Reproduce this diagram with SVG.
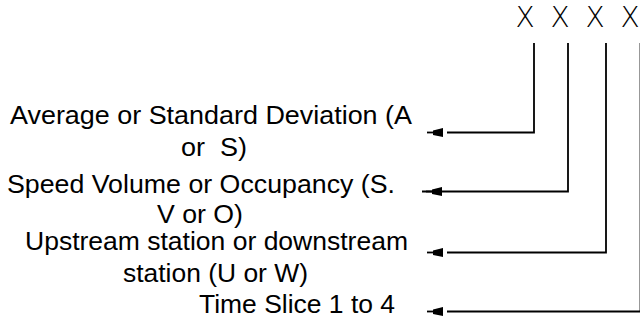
<svg xmlns="http://www.w3.org/2000/svg" width="640" height="328" viewBox="0 0 640 328">
<style>
.lbl{font-family:"Liberation Sans",Arial,sans-serif;font-size:26.5px;fill:#000}
.code{font-family:"DejaVu Sans",sans-serif;font-weight:200;font-size:28px;fill:#000;text-anchor:middle}
.wire{fill:none;stroke:#000;stroke-width:1.8}
</style>
<defs>
<g id="tip">
<line x1="-16" y1="0" x2="-8" y2="0" stroke="#000" stroke-width="1.8"/>
<polygon points="-10,-2 0,-4.5 0,4.5 -10,2.5" fill="#000"/>
</g>
</defs>
<g id="code">
<text class="code" x="525" y="27">X</text>
<text class="code" x="560" y="27">X</text>
<text class="code" x="595" y="27">X</text>
<text class="code" x="630" y="27">X</text>
</g>
<g id="node-avg">
<text class="lbl" x="10" y="124" textLength="402" lengthAdjust="spacingAndGlyphs">Average or Standard Deviation (A</text>
<text class="lbl" x="181" y="156" textLength="66" lengthAdjust="spacingAndGlyphs" xml:space="preserve">or  S)</text>
</g>
<g id="node-speed">
<text class="lbl" x="7" y="193" textLength="388" lengthAdjust="spacingAndGlyphs">Speed Volume or Occupancy (S.</text>
<text class="lbl" x="157" y="223" textLength="86" lengthAdjust="spacingAndGlyphs">V or O)</text>
</g>
<g id="node-station">
<text class="lbl" x="25" y="250" textLength="383" lengthAdjust="spacingAndGlyphs">Upstream station or downstream</text>
<text class="lbl" x="123" y="282" textLength="185" lengthAdjust="spacingAndGlyphs">station (U or W)</text>
</g>
<g id="node-time">
<text class="lbl" x="199" y="313" textLength="196" lengthAdjust="spacingAndGlyphs">Time Slice 1 to 4</text>
</g>
<g id="connectors">
<path class="wire" d="M447,132.5 H534 V43"/>
<use href="#tip" x="443" y="132.5"/>
<path class="wire" d="M422,191.5 H568 V43"/>
<use href="#tip" x="442" y="191.5"/>
<path class="wire" d="M447,252.5 H606 V43"/>
<use href="#tip" x="443" y="252.5"/>
<path class="wire" d="M447,311.5 H640.5 V43"/>
<use href="#tip" x="443" y="311.5"/>
</g>
</svg>
